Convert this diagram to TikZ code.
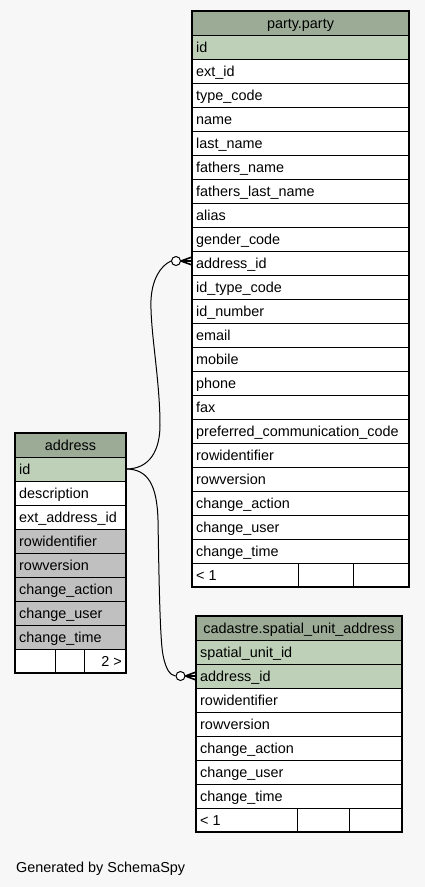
\documentclass[tikz,border=0pt]{standalone}
\usepackage{fontspec}
\setmainfont{Liberation Sans}
\definecolor{hdr}{HTML}{9BAB96}
\definecolor{pk}{HTML}{BED1B8}
\definecolor{excl}{HTML}{C0C0C0}
\definecolor{bg}{HTML}{F7F7F7}
\newcommand\tabfont{\fontsize{14.4}{16}\selectfont}
\tikzset{
  cell/.style={draw=black, line width=1pt, rectangle, inner sep=0pt, outer sep=0pt,
    minimum height=24pt, anchor=north west},
  lbl/.style={inner sep=0pt, anchor=base west, font=\tabfont},
  hd/.style={inner sep=0pt, anchor=base, font=\tabfont},
  rlbl/.style={inner sep=0pt, anchor=base east, font=\tabfont},
  frame/.style={draw=black, line width=1.8pt},
  conn/.style={draw=black, line width=1pt},
  zero/.style={circle, draw=black, line width=1pt, fill=white, inner sep=0pt, minimum size=9pt},
  crow/.style={draw=black, line width=1.6pt}
}
\newcommand\cellrow[6]{%
  \node[cell, fill=#5, minimum width=#4pt] (#1) at (#2,#3) {};
  \node[lbl] at ([xshift=4pt,yshift=-17.5pt]#1.north west) {#6};}
\begin{document}
\begin{tikzpicture}[x=1pt,y=-1pt]
\fill[bg] (0,0) rectangle (425,887);
\useasboundingbox (0,0) rectangle (425,887);

% ---------- party.party ----------
\node[cell, fill=hdr, minimum width=217pt] (party) at (192,11) {};
\node[hd] at ([yshift=-17.5pt]party.north) {party.party};
\foreach \t [count=\i from 0] in {id,ext\_id,type\_code,name,last\_name,fathers\_name,fathers\_last\_name,alias,gender\_code,address\_id,id\_type\_code,id\_number,email,mobile,phone,fax,preferred\_communication\_code,rowidentifier,rowversion,change\_action,change\_user,change\_time}{
  \pgfmathtruncatemacro\yy{35+24*\i}
  \ifnum\i=0 \def\ff{pk}\else\def\ff{white}\fi
  \cellrow{party-\i}{192}{\yy}{217}{\ff}{\t}
}
\node[cell, fill=white, minimum width=106pt] (pf1) at (192,563) {};
\node[cell, fill=white, minimum width=55pt] (pf2) at (298,563) {};
\node[cell, fill=white, minimum width=56pt] (pf3) at (353,563) {};
\node[lbl] at ([xshift=4pt,yshift=-17.5pt]pf1.north west) {< 1};
\draw[frame] (party.north west) rectangle (pf3.south east);

% ---------- address ----------
\node[cell, fill=hdr, minimum width=111pt] (addr) at (15,433) {};
\node[hd] at ([yshift=-17.5pt]addr.north) {address};
\cellrow{addr-0}{15}{457}{111}{pk}{id}
\cellrow{addr-1}{15}{481}{111}{white}{description}
\cellrow{addr-2}{15}{505}{111}{white}{ext\_address\_id}
\foreach \t [count=\i from 3] in {rowidentifier,rowversion,change\_action,change\_user,change\_time}{
  \pgfmathtruncatemacro\yy{457+24*\i}
  \cellrow{addr-\i}{15}{\yy}{111}{excl}{\t}
}
\node[cell, fill=white, minimum width=40pt] (af1) at (15,649) {};
\node[cell, fill=white, minimum width=29pt] (af2) at (55,649) {};
\node[cell, fill=white, minimum width=42pt] (af3) at (84,649) {};
\node[rlbl] at ([xshift=-4pt,yshift=-17.5pt]af3.north east) {2 >};
\draw[frame] (addr.north west) rectangle (af3.south east);

% ---------- cadastre.spatial_unit_address ----------
\node[cell, fill=hdr, minimum width=206pt] (sua) at (196,616) {};
\node[hd] at ([yshift=-17.5pt]sua.north) {cadastre.spatial\_unit\_address};
\cellrow{sua-0}{196}{640}{206}{pk}{spatial\_unit\_id}
\cellrow{sua-1}{196}{664}{206}{pk}{address\_id}
\foreach \t [count=\i from 2] in {rowidentifier,rowversion,change\_action,change\_user,change\_time}{
  \pgfmathtruncatemacro\yy{640+24*\i}
  \cellrow{sua-\i}{196}{\yy}{206}{white}{\t}
}
\node[cell, fill=white, minimum width=101pt] (sf1) at (196,808) {};
\node[cell, fill=white, minimum width=52pt] (sf2) at (297,808) {};
\node[cell, fill=white, minimum width=53pt] (sf3) at (349,808) {};
\node[lbl] at ([xshift=4pt,yshift=-17.5pt]sf1.north west) {< 1};
\draw[frame] (sua.north west) rectangle (sf3.south east);

% ---------- connectors ----------
\coordinate (e1) at ([yshift=2pt]party-9.west);
\node[zero] (c1) at ([xshift=-16pt]e1) {};
\draw[conn] (addr-0.east) .. controls (150,469) and (160,450) .. (160,425)
  .. controls (160,380) and (150,330) .. (151,300)
  .. controls (152,280) and (160,266) .. (c1.west);
\draw[crow] (c1.east) -- ([yshift=-4pt]e1);
\draw[crow] (c1.east) -- (e1);
\draw[crow] (c1.east) -- ([yshift=4pt]e1);

\coordinate (e2) at (sua-1.west);
\node[zero] (c2) at ([xshift=-15.5pt]e2) {};
\draw[conn] (addr-0.east) .. controls (148,469) and (157,485) .. (158,520)
  .. controls (159,580) and (160,640) .. (163,655)
  .. controls (166,670) and (170,675) .. (c2.west);
\draw[crow] (c2.east) -- ([yshift=-4pt]e2);
\draw[crow] (c2.east) -- (e2);
\draw[crow] (c2.east) -- ([yshift=4pt]e2);

% ---------- footer text ----------
\node[lbl] (gen) at (16,872) {Generated by SchemaSpy};
\end{tikzpicture}
\end{document}
